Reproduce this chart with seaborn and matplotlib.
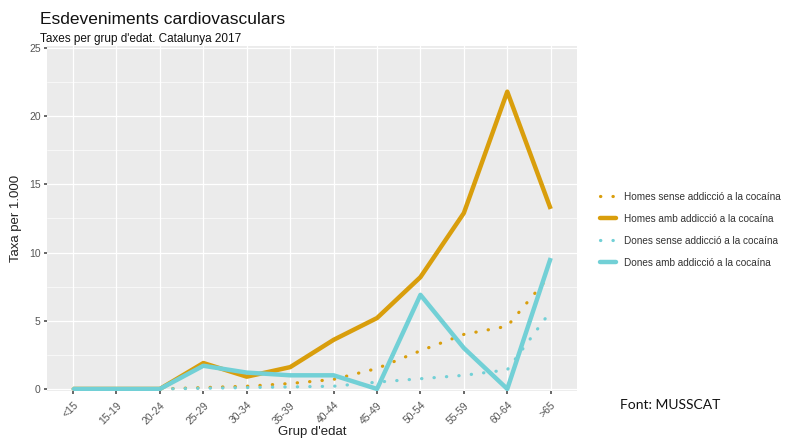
import matplotlib
matplotlib.use("Agg")
import matplotlib.pyplot as plt
import seaborn as sns
import pandas as pd
from matplotlib.lines import Line2D
from matplotlib.ticker import MultipleLocator

# Age groups and rates per 1,000
age_groups = ["<15", "15-19", "20-24", "25-29", "30-34", "35-39",
              "40-44", "45-49", "50-54", "55-59", "60-64", ">65"]
homes_sense = [0, 0, 0, 0.1, 0.2, 0.4, 0.7, 1.5, 2.8, 4.0, 4.6, 8.4]
homes_amb = [0, 0, 0, 1.9, 0.9, 1.6, 3.6, 5.2, 8.2, 12.9, 21.8, 13.2]
dones_sense = [0, 0, 0, 0.05, 0.1, 0.15, 0.2, 0.5, 0.75, 1.0, 1.4, 5.7]
dones_amb = [0, 0, 0, 1.7, 1.2, 1.0, 1.0, 0.0, 6.9, 3.0, 0.0, 9.6]

series_names = ["Homes sense addicció a la cocaína",
                "Homes amb addicció a la cocaína",
                "Dones sense addicció a la cocaína",
                "Dones amb addicció a la cocaína"]

ORANGE = "#D99E0C"
CYAN = "#72D0D6"

sns.set_theme(style="darkgrid", rc={
    "axes.facecolor": "#EBEBEB",
    "grid.color": "white",
    "axes.edgecolor": "none",
})
plt.rcParams["font.family"] = ["Liberation Sans", "DejaVu Sans"]

fig = plt.figure(figsize=(7.93, 4.42), dpi=100)
ax = fig.add_axes([0.0593, 0.1154, 0.668, 0.7806])

x = list(range(len(age_groups)))
styles = [
    (homes_sense, ORANGE, (0, (0.1, 3.8)), 2.3),
    (homes_amb, ORANGE, "-", 3.2),
    (dones_sense, CYAN, (0, (0.1, 3.8)), 2.3),
    (dones_amb, CYAN, "-", 3.2),
]
for name, (vals, col, ls, lw) in zip(series_names, styles):
    df = pd.DataFrame({"x": x, "taxa": vals})
    sns.lineplot(data=df, x="x", y="taxa", ax=ax, color=col, linewidth=lw,
                 linestyle=ls, dash_capstyle="round", solid_capstyle="butt",
                 legend=False)

ax.set_xlim(-0.6, len(age_groups) - 0.4)
ax.set_ylim(-0.15, 25.15)
ax.set_xticks(x)
ax.set_xticklabels(age_groups, rotation=45, ha="right", rotation_mode="anchor",
                   fontsize=7.5, color="#555555")
ax.yaxis.set_major_locator(MultipleLocator(5))
ax.yaxis.set_minor_locator(MultipleLocator(2.5))
ax.grid(which="major", color="white", linewidth=0.9)
ax.grid(which="minor", axis="y", color="white", linewidth=0.45)
ax.tick_params(axis="y", labelsize=7.5, labelcolor="#555555", length=2.5,
               color="#555555", left=True, pad=2)
ax.tick_params(axis="x", length=2.5, color="#555555", bottom=True, pad=4)
ax.tick_params(axis="y", which="minor", left=False)
ax.set_xlabel("Grup d'edat", fontsize=9.5, color="#222222", labelpad=0)
ax.set_ylabel("Taxa per 1.000", fontsize=9.5, color="#222222", labelpad=5)

fig.text(0.051, 0.945, "Esdeveniments cardiovasculars", fontsize=12.5, color="#111111")
fig.text(0.051, 0.905, "Taxes per grup d'edat. Catalunya 2017", fontsize=8.5, color="#111111")
fig.text(0.782, 0.075, "Font: MUSSCAT", fontsize=10, color="#111111", family="Lato")

handles = [Line2D([], [], color=st[1], linestyle=st[2], linewidth=st[3],
                  dash_capstyle="round") for st in styles]
fig.legend(handles, series_names, loc="center left", bbox_to_anchor=(0.745, 0.48),
           frameon=False, fontsize=7.2, handlelength=1.6, labelspacing=1.2,
           labelcolor="#333333")

fig.savefig("out.png", dpi=100)
